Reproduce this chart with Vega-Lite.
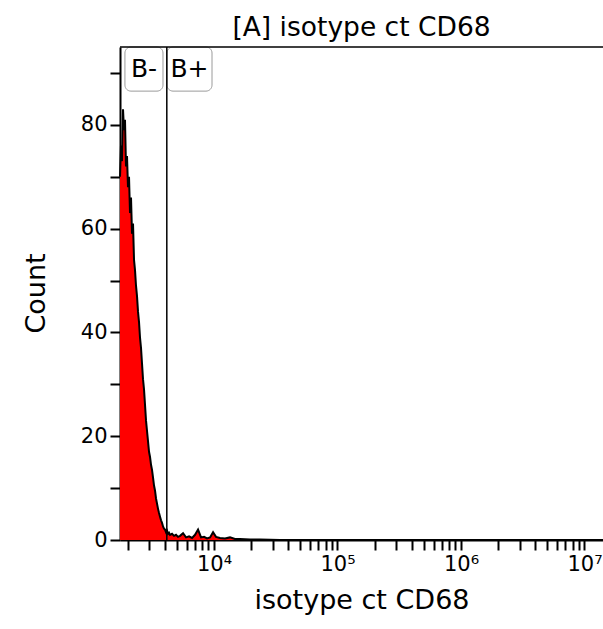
{
  "$schema": "https://vega.github.io/schema/vega-lite/v6.json",
  "width": 483,
  "height": 493,
  "autosize": {"type": "none"},
  "padding": {"left": 120, "top": 47, "right": 0, "bottom": 89},
  "background": "white",
  "config": {"view": {"stroke": null}, "font": "DejaVu Sans"},
  "title": {"text": "[A] isotype ct CD68", "fontSize": 26.5, "fontWeight": "normal", "color": "black", "offset": 5, "anchor": "middle"},
  "datasets": {
    "hist": [
      {"value":1734,"count":70},{"value":1766,"count":76},{"value":1800,"count":73},{"value":1834,"count":83},
      {"value":1868,"count":79},{"value":1903,"count":81},{"value":1939,"count":72},{"value":1976,"count":74},
      {"value":2013,"count":68},{"value":2051,"count":70},{"value":2090,"count":63},{"value":2129,"count":66},
      {"value":2169,"count":59},{"value":2210,"count":61},{"value":2252,"count":54},{"value":2294,"count":52},
      {"value":2337,"count":49},{"value":2381,"count":47},{"value":2426,"count":44},{"value":2472,"count":42},
      {"value":2518,"count":39},{"value":2566,"count":37},{"value":2614,"count":34},{"value":2663,"count":31},
      {"value":2714,"count":29},{"value":2765,"count":26},{"value":2817,"count":23},{"value":2870,"count":21},
      {"value":2924,"count":19},{"value":2979,"count":17},{"value":3035,"count":16},{"value":3092,"count":14.5},
      {"value":3150,"count":13.5},{"value":3210,"count":12},{"value":3270,"count":10.5},{"value":3332,"count":9.5},
      {"value":3394,"count":8},{"value":3458,"count":7},{"value":3523,"count":6},{"value":3590,"count":5.2},
      {"value":3657,"count":4.5},{"value":3726,"count":3.8},{"value":3796,"count":3.3},{"value":3868,"count":2.6},
      {"value":3941,"count":2.2},{"value":4015,"count":2.0},{"value":4090,"count":1.5},{"value":4167,"count":1.8},
      {"value":4246,"count":1.2},{"value":4326,"count":1.4},{"value":4407,"count":1.0},{"value":4575,"count":1.2},
      {"value":4749,"count":0.8},{"value":4929,"count":1.0},{"value":5117,"count":0.6},{"value":5311,"count":0.8},
      {"value":5617,"count":1.3},{"value":5940,"count":0.5},{"value":6282,"count":0.7},{"value":6643,"count":0.4},
      {"value":7025,"count":1.0},{"value":7430,"count":2.0},{"value":7857,"count":0.5},{"value":8309,"count":0.6},
      {"value":8787,"count":0.3},{"value":9293,"count":0.5},{"value":9827,"count":1.5},{"value":10380,"count":0.6},
      {"value":11183,"count":0.4},{"value":12276,"count":0.3},{"value":13478,"count":0.5},{"value":14796,"count":0.2},
      {"value":16238,"count":0.2},{"value":19566,"count":0.1},{"value":23577,"count":0.1},{"value":34220,"count":0},
      {"value":14120000,"count":0}
    ],
    "gates": [
      {"label":"B-","x1":1901,"x2":3865,"y1":86.5,"y2":95,"xc":2712,"yc":90.7},
      {"label":"B+","x1":4166,"x2":9640,"y1":86.5,"y2":95,"xc":6332,"yc":90.7}
    ]
  },
  "layer": [
    {
      "data": {"name": "hist"},
      "mark": {"type": "area", "color": "#ff0000", "interpolate": "linear"},
      "encoding": {
        "x": {
          "field": "value", "type": "quantitative",
          "scale": {"type": "log", "domain": [1734, 14120000], "nice": false},
          "axis": {
            "values": [2000,3000,4000,5000,6000,7000,8000,9000,10000,20000,30000,40000,50000,60000,70000,80000,90000,100000,200000,300000,400000,500000,600000,700000,800000,900000,1000000,2000000,3000000,4000000,5000000,6000000,7000000,8000000,9000000,10000000],
            "labelExpr": "datum.value == 10000 ? '10⁴' : datum.value == 100000 ? '10⁵' : datum.value == 1000000 ? '10⁶' : datum.value == 10000000 ? '10⁷' : ''",
            "tickSize": 10,
            "encode": {"ticks": {"update": {"y2": {"signal": "indexof([10000,100000,1000000,10000000], datum.value) >= 0 ? 10 : 5"}}}},
            "grid": false,
            "labelOverlap": false,
            "labelFlush": false,
            "domainColor": "black", "domainWidth": 2,
            "tickColor": "black", "tickWidth": 2,
            "labelFontSize": 21, "labelColor": "black", "labelPadding": 3,
            "title": "isotype ct CD68", "titleFontSize": 27, "titleFontWeight": "normal", "titleColor": "black", "titlePadding": 13
          }
        },
        "y": {
          "field": "count", "type": "quantitative",
          "scale": {"domain": [0, 95], "nice": false},
          "axis": {
            "values": [0,10,20,30,40,50,60,70,80,90],
            "format": "d",
            "labelExpr": "datum.value % 20 == 0 ? datum.label : ''",
            "tickSize": 10,
            "encode": {"ticks": {"update": {"x2": {"signal": "datum.value % 20 == 0 ? -10 : -5"}}}},
            "grid": false,
            "labelOverlap": false,
            "domainColor": "black", "domainWidth": 2,
            "tickColor": "black", "tickWidth": 2,
            "labelFontSize": 21, "labelColor": "black", "labelPadding": 3,
            "title": "Count", "titleFontSize": 27, "titleFontWeight": "normal", "titleColor": "black",
            "titleX": -70, "titleY": 246
          }
        }
      }
    },
    {
      "data": {"name": "hist"},
      "mark": {"type": "line", "color": "black", "strokeWidth": 2, "interpolate": "linear"},
      "encoding": {
        "x": {"field": "value", "type": "quantitative"},
        "y": {"field": "count", "type": "quantitative"}
      }
    },
    {
      "data": {"name": "gates"},
      "mark": {"type": "rect", "fill": "white", "stroke": "#9a9a9a", "strokeWidth": 1, "cornerRadius": 6},
      "encoding": {
        "x": {"field": "x1", "type": "quantitative"},
        "x2": {"field": "x2"},
        "y": {"field": "y1", "type": "quantitative"},
        "y2": {"field": "y2"}
      }
    },
    {
      "data": {"values": [{"top": 95}]},
      "mark": {"type": "rule", "color": "black", "strokeWidth": 1.5},
      "encoding": {"y": {"field": "top", "type": "quantitative"}}
    },
    {
      "data": {"values": [{"gate": 4150}]},
      "mark": {"type": "rule", "color": "black", "strokeWidth": 1.5},
      "encoding": {"x": {"field": "gate", "type": "quantitative"}}
    },
    {
      "data": {"name": "gates"},
      "mark": {"type": "text", "fontSize": 25, "color": "black", "align": "center", "baseline": "middle"},
      "encoding": {
        "x": {"field": "xc", "type": "quantitative"},
        "y": {"field": "yc", "type": "quantitative"},
        "text": {"field": "label"}
      }
    }
  ]
}
